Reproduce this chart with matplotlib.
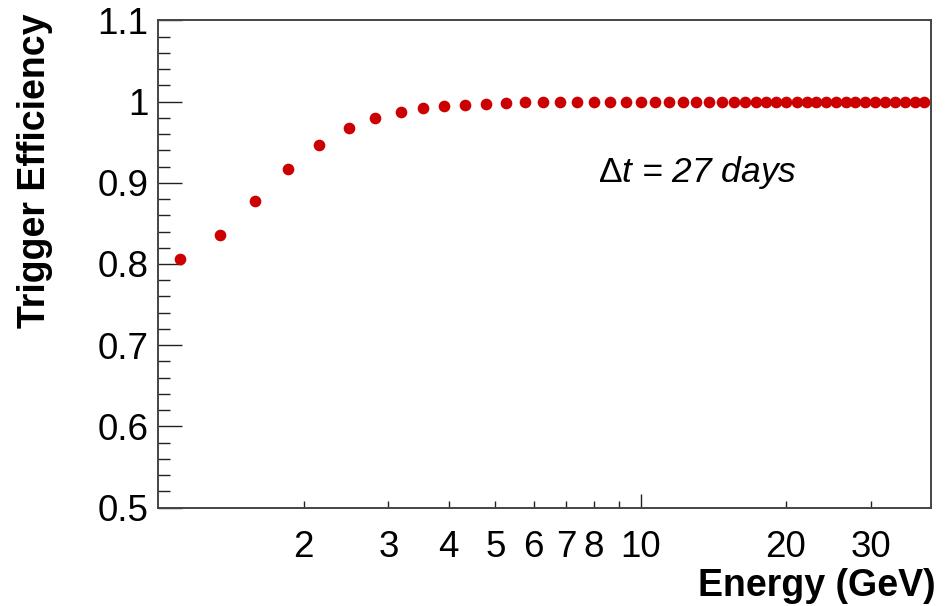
import matplotlib
matplotlib.use("Agg")
import matplotlib.pyplot as plt
from matplotlib.ticker import FixedLocator, MultipleLocator

plt.rcParams['font.family'] = ['Liberation Sans', 'DejaVu Sans']
plt.rcParams['mathtext.fontset'] = 'custom'
plt.rcParams['mathtext.rm'] = 'Liberation Sans'
plt.rcParams['mathtext.it'] = 'Liberation Sans:italic'

# energy points (GeV) and trigger efficiency
energy = [1.11, 1.34, 1.59, 1.86, 2.15, 2.48, 2.82, 3.18, 3.54, 3.92,
          4.32, 4.77, 5.25, 5.75, 6.28, 6.82, 7.39, 8.01, 8.65, 9.31,
          10.0, 10.69, 11.44, 12.22, 13.05, 13.87, 14.75, 15.65, 16.49, 17.34,
          18.23, 19.12, 20.06, 21.07, 22.12, 23.14, 24.28, 25.47, 26.65, 27.88,
          29.25, 30.68, 32.18, 33.75, 35.40, 37.05, 38.60]
efficiency = [0.806, 0.836, 0.8775, 0.9164, 0.9467, 0.9673, 0.980, 0.9873, 0.9919, 0.9947,
              0.9963, 0.9975, 0.9988, 0.9993, 0.9997, 0.9998, 0.9999, 1.0, 1.0, 1.0,
              1.0, 1.0, 1.0, 1.0, 1.0, 1.0, 1.0, 1.0, 1.0, 1.0,
              1.0, 1.0, 1.0, 1.0, 1.0, 1.0, 1.0, 1.0, 1.0, 1.0,
              1.0, 1.0, 1.0, 1.0, 1.0, 1.0, 1.0]

x_major = [10]
x_minor = [2, 3, 4, 5, 6, 7, 8, 9, 20, 30]
x_minor_labels = ['2', '3', '4', '5', '6', '7', '8', '', '20', '30']

fig = plt.figure(figsize=(9.47, 6.06), dpi=100)
ax = fig.add_axes([0.1672, 0.1625, 0.8159, 0.8038])

ax.plot(energy, efficiency, 'o', ms=8.4, color='#cc0000', mec='none')

ax.set_xscale('log')
ax.set_xlim(1, 40)
ax.set_ylim(0.5, 1.1)

ax.xaxis.set_major_locator(FixedLocator(x_major))
ax.set_xticks(x_major, ['10'])
ax.set_xticks(x_minor, x_minor_labels, minor=True)
ax.yaxis.set_minor_locator(MultipleLocator(0.02))
ax.set_yticks([0.5, 0.6, 0.7, 0.8, 0.9, 1.0, 1.1],
              ['0.5', '0.6', '0.7', '0.8', '0.9', '1', '1.1'])

ax.tick_params(axis='both', which='both', direction='in', colors='#222222',
               labelcolor='black', labelsize=26.5, width=1)
ax.tick_params(axis='y', which='major', length=17.3, pad=7)
ax.tick_params(axis='y', which='minor', length=8.6)
ax.tick_params(axis='x', which='major', length=10, pad=16)
ax.tick_params(axis='x', which='minor', length=5, pad=16)

for s in ax.spines.values():
    s.set_color('#444444')
    s.set_linewidth(1.4)

ax.set_xlabel('Energy (GeV)', fontsize=27, fontweight='bold', ha='right')
ax.xaxis.set_label_coords(1.006, -0.125)
ax.set_ylabel('Trigger Efficiency', fontsize=27, fontweight='bold', ha='right')
ax.yaxis.set_label_coords(-0.136, 1.014)

ax.text(0.569, 0.668, r'$\Delta t$ = 27 days', transform=ax.transAxes,
        fontsize=25.5, fontstyle='italic', va='baseline', ha='left')

fig.savefig('out.png', dpi=100)
